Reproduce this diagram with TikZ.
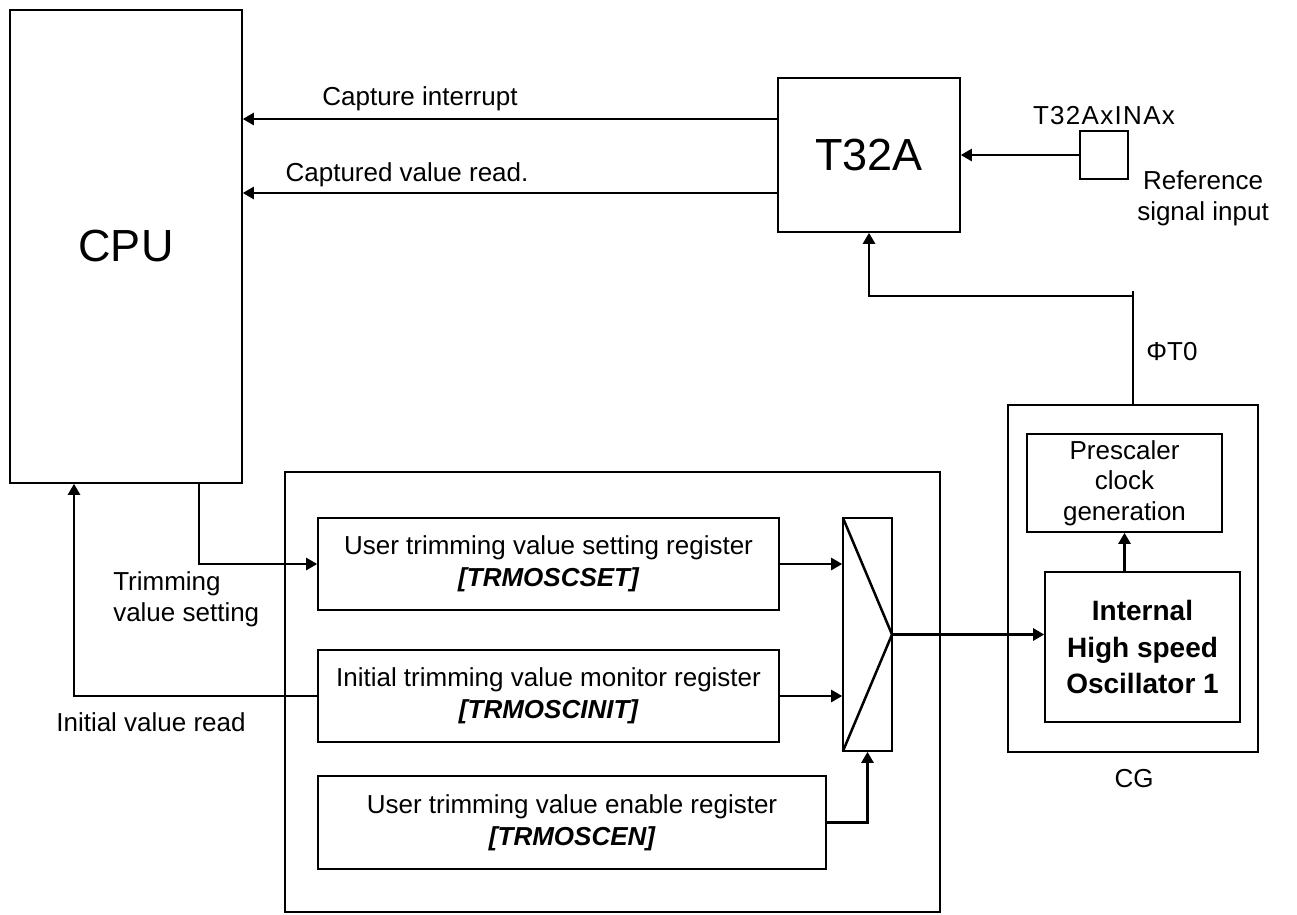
\documentclass[tikz,border=0pt]{standalone}
\usepackage{fontspec}
\setmainfont{Liberation Sans}
\usetikzlibrary{arrows.meta}
\begin{document}
\begin{tikzpicture}[x=1pt,y=-1pt,
  line width=2.5pt,
  blk/.style={draw, line width=2.5pt, inner sep=0pt, outer sep=0pt, anchor=north west, align=center},
  arr/.style={-{Triangle[length=11pt,width=12pt]}, shorten >=0.8pt},
  lbl/.style={font=\fontsize{26}{31}\selectfont, inner sep=0pt, align=center},
  big/.style={font=\fontsize{45}{50}\selectfont},
  reg/.style={blk, font=\fontsize{26}{32}\selectfont},
]
\useasboundingbox (0,0) rectangle (1297,914);
% main blocks
\node[blk, big, minimum width=232pt, minimum height=473pt] (cpu) at (10,10) {CPU};
\node[blk, big, minimum width=182pt, minimum height=154pt] (t32a) at (778,78) {T32A};
\node[blk, minimum width=48pt, minimum height=48pt] (pin) at (1080,131) {};
\node[blk, minimum width=250pt, minimum height=347pt] (cg) at (1008,405) {};
\node[blk, font=\fontsize{26}{30.5}\selectfont, minimum width=195pt, minimum height=98pt] (pre) at (1027,434) {Prescaler\\clock\\generation};
\node[blk, font=\fontsize{28}{36.5}\selectfont\bfseries, minimum width=195pt, minimum height=150pt] (osc) at (1045,572) {Internal\\High speed\\Oscillator 1};
\node[blk, minimum width=655pt, minimum height=440pt] (cont) at (285,472) {};
\node[reg, minimum width=461pt, minimum height=92pt] (r1) at (318,518) {User trimming value setting register\\{\bfseries\itshape [TRMOSCSET]}};
\node[reg, minimum width=461pt, minimum height=92pt] (r2) at (318,650) {Initial trimming value monitor register\\{\bfseries\itshape [TRMOSCINIT]}};
\node[reg, minimum width=508pt, minimum height=93pt] (r3) at (318,776) {User trimming value enable register\\{\bfseries\itshape [TRMOSCEN]}};
\node[blk, minimum width=49pt, minimum height=233pt] (mux) at (843,518) {};
% labels
\node[lbl] (lcap) at (420,99) {Capture interrupt};
\node[lbl] (lread) at (407,175) {Captured value read.};
\node[lbl] (lpin) at (1104,116) {\addfontfeature{LetterSpace=5}T32AxINAx};
\node[lbl] (lref) at (1203,198) {Reference\\signal input};
\node[lbl] (lphi) at (1172,352) {ΦT0};
\node[lbl, align=left, anchor=west] (ltrim) at (112,599) {Trimming\\value setting};
\node[lbl] (linit) at (151,722) {Initial value read};
\node[lbl] (lcg) at (1134,779) {CG};
% connectors
\draw[arr] ([yshift=36pt]t32a.west) -- ([yshift=36pt]t32a.west -| cpu.east);
\draw[arr] ([yshift=-38pt]t32a.west) -- ([yshift=-38pt]t32a.west -| cpu.east);
\draw[arr] (pin.west) -- (pin.west -| t32a.east);
\coordinate (tick) at (cg.north |- 0,296);
\draw (cg.north) -- ([yshift=5pt]tick);
\draw[arr] (tick) -| (t32a.south);
\draw[arr] (osc.north -| pre.south) -- (pre.south);
\draw (mux.north west) -- (mux.east) -- (mux.south west);
\draw[arr] (mux.east) -- (mux.east -| osc.west);
\draw[arr] (r1.east) -- (r1.east -| mux.west);
\draw[arr] (r2.east) -- (r2.east -| mux.west);
\draw[arr] (r3.east) -| (mux.south);
\draw[arr] ([xshift=73pt]cpu.south) |- (r1.west);
\draw[arr] (r2.west) -| ([xshift=-52pt]cpu.south);
\end{tikzpicture}
\end{document}
